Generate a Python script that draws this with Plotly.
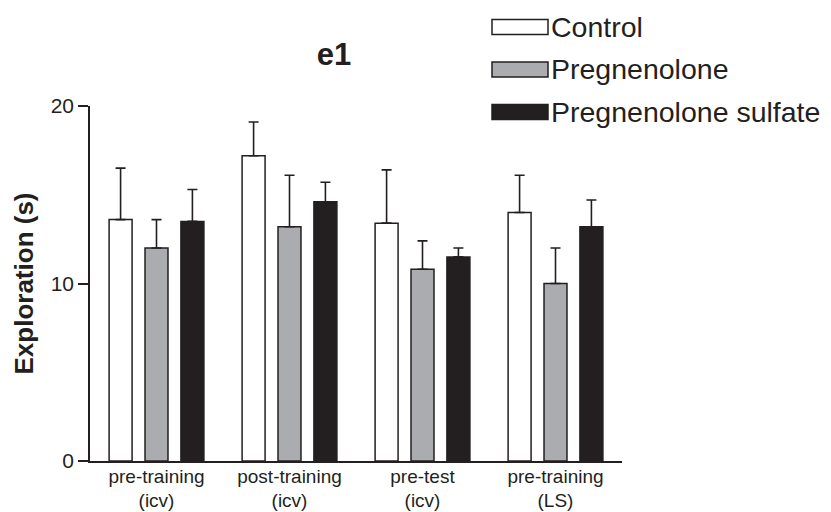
import plotly.graph_objects as go

categories = ["pre-training<br>(icv)", "post-training<br>(icv)", "pre-test<br>(icv)", "pre-training<br>(LS)"]
series_names = ["Control", "Pregnenolone", "Pregnenolone sulfate"]
control = [13.6, 17.2, 13.4, 14.0]
control_err = [2.9, 1.9, 3.0, 2.1]
preg = [12.0, 13.2, 10.8, 10.0]
preg_err = [1.6, 2.9, 1.6, 2.0]
pregs = [13.5, 14.6, 11.5, 13.2]
pregs_err = [1.8, 1.1, 0.5, 1.5]
y_ticks = [0, 10, 20]

fill_colors = ["#ffffff", "#abacb0", "#231f20"]
values = [control, preg, pregs]
errors = [control_err, preg_err, pregs_err]
ink = "#231f20"
font = "Liberation Sans, Arial, sans-serif"

# the page body adds an 8px offset, so the figure is 8px smaller than the window
OFF = 8
W, H = 831 - OFF, 512 - OFF
ML, MR, MT, MB = 90 - OFF, 209, 106 - OFF, 51
PW, PH = W - ML - MR, H - MT - MB

def px_x(px):
    return (px - OFF - ML) / PW

def px_y(py):
    return (H - MB - (py - OFF)) / PH

fig = go.Figure()
for i, name in enumerate(series_names):
    fig.add_trace(go.Bar(
        x=categories, y=values[i], name=name,
        marker=dict(color=fill_colors[i], line=dict(color=ink, width=1.5)),
        error_y=dict(type="data", symmetric=False, array=errors[i],
                     arrayminus=[0] * len(errors[i]),
                     color=ink, thickness=1.6, width=5),
        showlegend=False,
    ))

# custom legend: wide rectangle keys + labels
legend_top = 27
legend_step = 42.5
for i, name in enumerate(series_names):
    cy = legend_top + i * legend_step
    fig.add_shape(type="rect", xref="paper", yref="paper",
                  x0=px_x(492), x1=px_x(548), y0=px_y(cy - 7.5), y1=px_y(cy + 7.5),
                  fillcolor=fill_colors[i], line=dict(color=ink, width=1.5))
    fig.add_annotation(xref="paper", yref="paper", x=px_x(549), y=px_y(cy),
                       xanchor="left", yanchor="middle", showarrow=False,
                       text=name, font=dict(size=28.5, family=font, color=ink))

fig.update_layout(
    width=W, height=H,
    margin=dict(l=ML, r=MR, t=MT, b=MB),
    paper_bgcolor="white", plot_bgcolor="white",
    font=dict(family=font, color=ink),
    barmode="group", bargap=0.19, bargroupgap=0.36,
    showlegend=False,
    title=dict(text="<b>e1</b>", x=(334 - OFF) / W, xanchor="center", y=1 - (54 - OFF) / H,
               yanchor="middle", font=dict(size=31, family=font, color=ink)),
)
fig.update_xaxes(showline=True, linecolor=ink, linewidth=1.5, ticks="", automargin=False,
                 tickfont=dict(size=19, family=font, color=ink), showgrid=False,
                 ticklabelstandoff=-3,
                 zeroline=False, range=[-0.5, 3.5])
fig.update_yaxes(range=[0, 20], tickvals=y_ticks, showline=True, linecolor=ink, linewidth=1.5,
                 ticks="outside", ticklen=10, tickwidth=1.5, tickcolor=ink, automargin=False,
                 tickfont=dict(size=21, family=font, color=ink), showgrid=False, zeroline=False,
                 title=dict(text="<b>Exploration (s)</b>", font=dict(size=26, family=font, color=ink),
                            standoff=10))

fig.write_html("out.html")
